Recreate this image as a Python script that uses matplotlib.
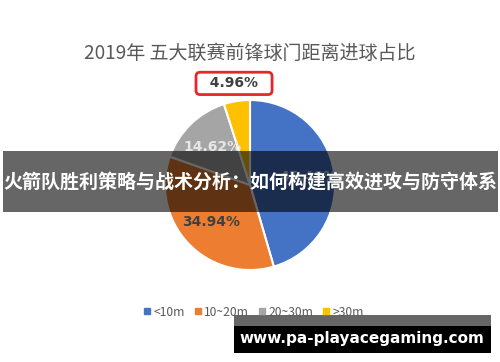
import matplotlib
matplotlib.use("Agg")
import matplotlib.pyplot as plt
from matplotlib.patches import Rectangle
from matplotlib.lines import Line2D
import numpy as np

plt.rcParams['font.family'] = ['Noto Sans CJK SC', 'DejaVu Sans']

title = "2019年 五大联赛前锋球门距离进球占比"
categories = ["<10m", "10~20m", "20~30m", ">30m"]
values = [45.48, 34.94, 14.62, 4.96]
colors = ["#4472C4", "#ED7D31", "#A5A5A5", "#FFC000"]
label_colors = ["#D8E2F6", "#404040", "#E6E6E6", "#404040"]
label_dist = [0.69, 0.63, 0.63, 1.21]
banner_text = "火箭队胜利策略与战术分析：如何构建高效进攻与防守体系"
watermark = "www.pa-playacegaming.com"

W, H = 500, 362
fig = plt.figure(figsize=(W / 100, H / 100), dpi=100)
fig.patch.set_facecolor("white")

def fx(px):
    return px / W

def fy(py):
    return 1 - py / H

# pie axes: center (250,185), radius 85 px
cx, cy, r = 250, 185, 85
ax = fig.add_axes([fx(cx - r), fy(cy + r), 2 * r / W, 2 * r / H])
wedges, _ = ax.pie(values, colors=colors, startangle=90, counterclock=False,
                   wedgeprops=dict(edgecolor="white", linewidth=1.5), radius=1)
ax.set_xlim(-1, 1)
ax.set_ylim(-1, 1)
ax.set_aspect("auto")
ax.axis("off")

for w, v, d, lc in zip(wedges, values, label_dist, label_colors):
    ang = np.deg2rad((w.theta1 + w.theta2) / 2)
    x, y = d * np.cos(ang), d * np.sin(ang)
    if d > 1:
        ax.text(x, y, f"  {v:.2f}%  ", ha="center", va="center", fontsize=10,
                fontweight="bold", color=lc, family="DejaVu Sans",
                bbox=dict(boxstyle="round,pad=0.3,rounding_size=0.3", fc="white",
                          ec="#E8262A", lw=2), clip_on=False)
    else:
        ax.text(x, y, f"{v:.2f}%", ha="center", va="center", fontsize=10,
                fontweight="bold", color=lc, family="DejaVu Sans")

fig.text(0.5, fy(53), title, ha="center", va="center", fontsize=13.7, color="#595959")

handles = [Line2D([0], [0], marker="s", linestyle="none", markersize=4,
                  markerfacecolor=c, markeredgecolor=c) for c in colors]
fig.legend(handles, categories, loc="center", bbox_to_anchor=(fx(253), fy(312)),
           ncol=4, frameon=False, fontsize=8.7, labelcolor="#595959",
           handletextpad=0.1, columnspacing=0.7, handlelength=0.8)

# banner
fig.patches.append(Rectangle((fx(3), fy(212)), fx(495), 61 / H, transform=fig.transFigure,
                             facecolor="black", alpha=0.6, edgecolor="none", zorder=5))
fig.text(0.5, fy(182), banner_text, ha="center", va="center", fontsize=13.7,
         fontweight="bold", color="white", zorder=6)

# watermark
fig.patches.append(Rectangle((fx(234), fy(326)), fx(257), 11 / H, transform=fig.transFigure,
                             facecolor="#666666", edgecolor="none", zorder=5))
fig.patches.append(Rectangle((fx(234), fy(353)), fx(257), 27 / H, transform=fig.transFigure,
                             facecolor="black", edgecolor="none", zorder=5))
fig.text(fx(362), fy(338), watermark, ha="center", va="center", fontsize=11,
         fontweight="bold", color="white", family="DejaVu Sans", zorder=6)

fig.savefig("out.png", dpi=100)
